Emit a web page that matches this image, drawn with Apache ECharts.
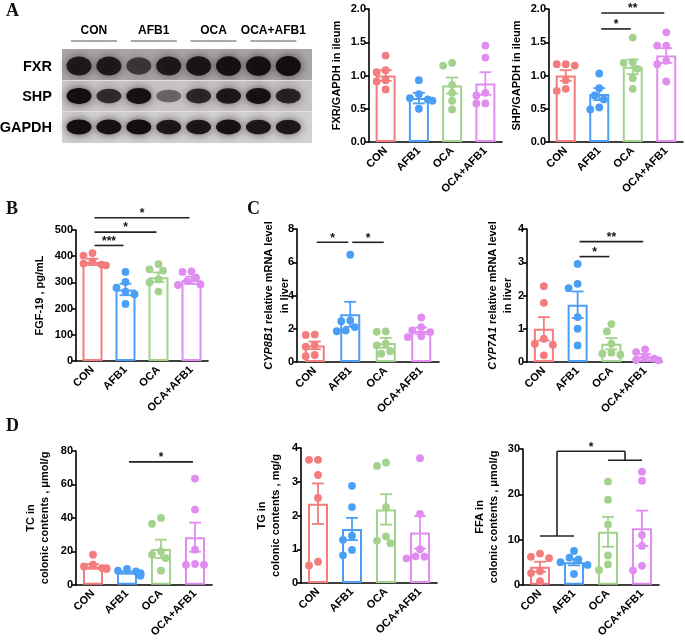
<!DOCTYPE html>
<html lang="en">
<head>
<meta charset="UTF-8">
<title>FXR / FGF-19 / bile acid panels</title>
<script src="https://cdn.jsdelivr.net/npm/echarts@6/dist/echarts.min.js"></script>
<style>
    html, body { margin: 0; padding: 0; background: #fff; }
    #main { width: 685px; height: 640px; }
</style>
</head>
<body>
<div id="main"></div>
<script type="text/javascript">
    var groups = ['CON', 'AFB1', 'OCA', 'OCA+AFB1'];
    var groupColors = ['#f47c7c', '#4b9ef5', '#a3d28c', '#e08cf0'];

    // A - western blot band strength (0..1), lanes 2 per group
    var blotRows = ['FXR', 'SHP', 'GAPDH'];
    var fxrBands = [0.85, 0.85, 0.55, 0.85, 0.9, 0.95, 0.95, 1.0];
    var shpBands = [1.0, 0.7, 0.95, 0.3, 0.75, 0.9, 0.95, 0.8];
    var gapdhBands = [1.0, 0.95, 1.0, 0.9, 0.9, 0.95, 0.9, 0.9];

    // A - FXR/GAPDH in ileum
    var fxrMean = [1.00, 0.66, 0.85, 0.88];
    var fxrSem = [0.08, 0.08, 0.12, 0.17];
    var fxrPoints = [
        [1.30, 1.08, 1.05, 0.93, 0.91, 0.79],
        [0.93, 0.72, 0.66, 0.64, 0.62, 0.50],
        [1.19, 1.15, 0.86, 0.74, 0.62, 0.49],
        [1.45, 1.27, 0.74, 0.70, 0.58, 0.58]
    ];

    // A - SHP/GAPDH in ileum
    var shpMean = [1.00, 0.72, 1.13, 1.30];
    var shpSem = [0.08, 0.09, 0.11, 0.11];
    var shpPoints = [
        [1.17, 1.17, 1.15, 0.93, 0.80, 0.77],
        [1.03, 0.81, 0.70, 0.64, 0.52, 0.49],
        [1.57, 1.20, 1.19, 1.10, 0.96, 0.80],
        [1.65, 1.45, 1.45, 1.22, 1.17, 0.91]
    ];
    var shpSig = [[1, 2, 1.70, '*'], [1, 3, 1.94, '**']];

    // B - FGF-19
    var fgfMean = [378, 273, 320, 308];
    var fgfSem = [12, 22, 18, 14];
    var fgfPoints = [
        [412, 402, 380, 372, 368, 365],
        [340, 302, 280, 265, 255, 218],
        [370, 350, 345, 312, 300, 265],
        [342, 340, 318, 305, 292, 290]
    ];
    var fgfSig = [[0, 1, 441, '***'], [0, 2, 492, '*'], [0, 3, 547, '*']];

    // C - CYP8B1
    var cyp8Mean = [1.00, 2.87, 1.15, 1.87];
    var cyp8Sem = [0.23, 0.75, 0.30, 0.20];
    var cyp8Points = [
        [1.65, 1.63, 1.02, 0.92, 0.42, 0.35],
        [6.45, 2.50, 2.45, 2.10, 1.90, 1.85],
        [1.84, 1.82, 1.10, 1.00, 0.65, 0.50],
        [2.68, 2.10, 1.90, 1.80, 1.55, 1.50]
    ];
    var cyp8Sig = [[0, 1, 7.2, '*'], [1, 2, 7.2, '*']];

    // C - CYP7A1
    var cyp7Mean = [1.00, 1.72, 0.55, 0.17];
    var cyp7Sem = [0.35, 0.40, 0.17, 0.07];
    var cyp7Points = [
        [2.28, 1.78, 0.70, 0.55, 0.52, 0.20],
        [2.95, 2.35, 2.22, 1.35, 1.00, 0.50],
        [1.14, 0.92, 0.55, 0.28, 0.25, 0.22],
        [0.38, 0.30, 0.15, 0.10, 0.06, 0.05]
    ];
    var cyp7Sig = [[1, 2, 3.17, '*'], [1, 3, 3.62, '**']];

    // D - TC / TG / FFA in colonic contents
    var tcMean = [11.0, 7.4, 21.5, 28.5];
    var tcSem = [1.4, 0.6, 5.5, 8.7];
    var tcPoints = [
        [18, 12, 11, 10, 10, 9.5],
        [9.5, 8.5, 8, 7, 6.5, 5.5],
        [40, 36.5, 20, 18, 16, 8.5],
        [63.5, 45, 21, 12.5, 12, 12]
    ];
    var tcSig = [[1, 3, 73.5, '*']];

    var tgMean = [2.35, 1.60, 2.18, 1.50];
    var tgSem = [0.60, 0.33, 0.45, 0.48];
    var tgPoints = [
        [3.65, 3.65, 3.20, 2.52, 0.63, 0.52],
        [2.88, 2.25, 1.40, 1.28, 0.98, 0.82],
        [3.57, 3.47, 2.25, 1.38, 1.25, 1.18],
        [3.70, 2.05, 1.00, 0.79, 0.78, 0.73]
    ];

    var ffaMean = [4.0, 5.0, 11.7, 12.5];
    var ffaSem = [1.1, 0.7, 3.3, 3.9];
    var ffaPoints = [
        [6.9, 6.2, 5.9, 3.0, 2.6, 0.8],
        [7.5, 6.0, 5.6, 5.0, 4.4, 2.4],
        [22.8, 18.8, 13.3, 6.5, 4.5, 3.3],
        [25.0, 23.0, 11.0, 8.6, 4.2, 3.2]
    ];
    // (CON+AFB1) vs (OCA+OCA+AFB1): low bar y, high bar y, top y
    var ffaGroupSig = [10.8, 27.5, 29.5, '*'];

    var fontFam = '"Liberation Sans", Arial, sans-serif';

    var panels = [
        {grid: {left: 369, top: 9, width: 133, height: 133}, max: 2, interval: 0.5, dec: 1,
            name: 'FXR/GAPDH in ileum', nameGap: 26, mean: fxrMean, sem: fxrSem, pts: fxrPoints, sig: []},
        {grid: {left: 549, top: 9, width: 134, height: 133}, max: 2, interval: 0.5, dec: 1,
            name: 'SHP/GAPDH in ileum', nameGap: 26, mean: shpMean, sem: shpSem, pts: shpPoints, sig: shpSig},
        {grid: {left: 76, top: 230, width: 132, height: 131}, max: 500, interval: 100, dec: 0,
            name: 'FGF-19 , pg/mL', nameGap: 30, mean: fgfMean, sem: fgfSem, pts: fgfPoints, sig: fgfSig},
        {grid: {left: 297, top: 229, width: 142, height: 133}, max: 8, interval: 2, dec: 0,
            name: '{i|CYP8B1} relative mRNA level\nin liver', lineHeight: 16, nameGap: 4, noMove: true,
            mean: cyp8Mean, sem: cyp8Sem, pts: cyp8Points, sig: cyp8Sig},
        {grid: {left: 527, top: 229, width: 135, height: 133}, max: 4, interval: 1, dec: 0,
            name: '{i|CYP7A1} relative mRNA level\nin liver', lineHeight: 15, nameGap: 12, noMove: true,
            mean: cyp7Mean, sem: cyp7Sem, pts: cyp7Points, sig: cyp7Sig},
        {grid: {left: 76, top: 451, width: 136, height: 135}, max: 80, interval: 20, dec: 0,
            name: 'TC in\ncolonic contents , \u03bcmol/g', lineHeight: 14, nameGap: 24,
            mean: tcMean, sem: tcSem, pts: tcPoints, sig: tcSig},
        {grid: {left: 301, top: 448, width: 136, height: 135}, max: 4, interval: 1, dec: 0,
            name: 'TG in\ncolonic contents , mg/g', lineHeight: 14, nameGap: 18,
            mean: tgMean, sem: tgSem, pts: tgPoints, sig: []},
        {grid: {left: 523, top: 449, width: 136, height: 136}, max: 30, interval: 10, dec: 0,
            name: 'FFA in\ncolonic contents , \u03bcmol/g', lineHeight: 14, nameGap: 22,
            mean: ffaMean, sem: ffaSem, pts: ffaPoints, sig: [], groupSig: ffaGroupSig}
    ];

    // simple beeswarm: push dots sideways when they would overlap
    function spread(values, pxPerUnit) {
        var placed = [];
        var steps = [0, -4.5, 4.5, -9, 9, -13.5, 13.5];
        return values.map(function (v) {
            var y = v * pxPerUnit;
            var off = steps[steps.length - 1];
            for (var k = 0; k < steps.length; k++) {
                var ok = placed.every(function (p) {
                    return Math.hypot(p[0] - steps[k], p[1] - y) >= 7.6;
                });
                if (ok) { off = steps[k]; break; }
            }
            placed.push([off, y]);
            return off;
        });
    }

    function line(x1, y1, x2, y2, color, w) {
        return {type: 'line', shape: {x1: x1, y1: y1, x2: x2, y2: y2},
            style: {stroke: color, lineWidth: w}};
    }

    function errRender(params, api) {
        var c = api.value(0), m = api.value(1), s = api.value(2);
        var top = api.coord([c, m + s]);
        var bot = api.coord([c, m - s]);
        var col = groupColors[c];
        return {type: 'group', children: [
            line(top[0], top[1], bot[0], bot[1], col, 1.8),
            line(top[0] - 6, top[1], top[0] + 6, top[1], col, 1.8),
            line(bot[0] - 6, bot[1], bot[0] + 6, bot[1], col, 1.8)
        ]};
    }

    function dotRender(params, api) {
        var p = api.coord([api.value(0), api.value(1)]);
        return {type: 'circle', shape: {cx: p[0] + api.value(2), cy: p[1], r: 3.9},
            style: {fill: groupColors[api.value(0)]}};
    }

    function starText(x, y, t) {
        return {type: 'text', x: x, y: y + 3,
            style: {text: t, fill: '#111', font: 'bold 12px ' + fontFam, align: 'center', verticalAlign: 'bottom'}};
    }

    function makeSigRender(sig) {
        return function (params, api) {
            var s = sig[params.dataIndex];
            var a = api.coord([s[0], s[2]]);
            var b = api.coord([s[1], s[2]]);
            return {type: 'group', children: [
                line(a[0] + 2, a[1], b[0] - 2, b[1], '#222', 1.6),
                starText((a[0] + b[0]) / 2, a[1] - 1, s[3])
            ]};
        };
    }

    function makeGroupSigRender(g) {
        return function (params, api) {
            var l0 = api.coord([0, g[0]]), l1 = api.coord([1, g[0]]);
            var h0 = api.coord([2, g[1]]), h1 = api.coord([3, g[1]]);
            var top = api.coord([0, g[2]])[1];
            var lm = (l0[0] + l1[0]) / 2, hm = (h0[0] + h1[0]) / 2;
            return {type: 'group', children: [
                line(l0[0], l0[1], l1[0], l1[1], '#222', 1.6),
                line(h0[0], h0[1], h1[0], h1[1], '#222', 1.6),
                line(lm, l0[1], lm, top, '#222', 1.6),
                line(hm, h0[1], hm, top, '#222', 1.6),
                line(lm, top, hm, top, '#222', 1.6),
                starText((lm + hm) / 2, top - 1, g[3])
            ]};
        };
    }

    var grids = [], xAxes = [], yAxes = [], series = [];
    panels.forEach(function (p, i) {
        grids.push(p.grid);
        xAxes.push({
            type: 'category', gridIndex: i, data: groups,
            axisLine: {lineStyle: {color: '#000', width: 1.6}},
            axisTick: {alignWithLabel: true, length: 4, lineStyle: {color: '#000', width: 1.6}},
            axisLabel: {rotate: 45, margin: 7, color: '#000', fontFamily: fontFam, fontWeight: 'bold', fontSize: 11, interval: 0},
            splitLine: {show: false}
        });
        var yAxis = {
            type: 'value', gridIndex: i, min: 0, max: p.max, interval: p.interval,
            axisLine: {show: true, lineStyle: {color: '#000', width: 1.6}},
            axisTick: {show: true, length: 4, lineStyle: {color: '#000', width: 1.6}},
            axisLabel: {margin: 3, color: '#000', fontFamily: fontFam, fontWeight: 'bold', fontSize: 11,
                formatter: function (v) { return v.toFixed(p.dec); }},
            splitLine: {show: false},
            name: p.name, nameLocation: 'middle', nameGap: p.nameGap,
            nameTextStyle: {color: '#000', fontFamily: fontFam, fontWeight: 'bold', fontSize: 11,
                lineHeight: p.lineHeight || 13,
                rich: {i: {fontStyle: 'italic', fontWeight: 'bold', fontSize: 11, fontFamily: fontFam, color: '#000'}}}
        };
        if (p.noMove) yAxis.nameMoveOverlap = false;
        yAxes.push(yAxis);

        series.push({
            type: 'bar', xAxisIndex: i, yAxisIndex: i, barWidth: 20, z: 2,
            data: p.mean.map(function (m, c) {
                return {value: m, itemStyle: {color: '#fff', borderColor: groupColors[c], borderWidth: 2}};
            })
        });

        var pxPerUnit = p.grid.height / p.max;
        var dots = [];
        p.pts.forEach(function (vals, c) {
            var offs = spread(vals, pxPerUnit);
            vals.forEach(function (v, k) { dots.push([c, v, offs[k]]); });
        });
        series.push({type: 'custom', xAxisIndex: i, yAxisIndex: i, z: 3, renderItem: dotRender, data: dots});

        series.push({
            type: 'custom', xAxisIndex: i, yAxisIndex: i, z: 4, renderItem: errRender,
            data: p.mean.map(function (m, c) { return [c, m, p.sem[c]]; })
        });

        if (p.sig.length) {
            series.push({
                type: 'custom', xAxisIndex: i, yAxisIndex: i, z: 5, clip: false,
                renderItem: makeSigRender(p.sig),
                data: p.sig.map(function (s) { return [s[0], s[2]]; })
            });
        }
        if (p.groupSig) {
            series.push({
                type: 'custom', xAxisIndex: i, yAxisIndex: i, z: 5, clip: false,
                renderItem: makeGroupSigRender(p.groupSig),
                data: [[0, p.groupSig[0]]]
            });
        }
    });

    // blot picture and panel letters
    var graphics = [];
    function laneX(k) { return 79 + k * 29.9; }
    graphics.push({type: 'rect', shape: {x: 62, y: 49, width: 250, height: 94}, style: {fill: '#d2cfcf'}});
    graphics.push({type: 'rect', shape: {x: 62, y: 49, width: 250, height: 31}, style: {fill: '#aaa6a7'}});
    graphics.push({type: 'rect', shape: {x: 62, y: 81, width: 250, height: 30}, style: {fill: '#cac6c7'}});
    graphics.push({type: 'rect', shape: {x: 62, y: 112, width: 250, height: 31}, style: {fill: '#d4d1d1'}});
    var rowY = [66, 96, 127], rowRy = [10, 8, 7.5];
    [fxrBands, shpBands, gapdhBands].forEach(function (bands, r) {
        bands.forEach(function (s, k) {
            graphics.push({type: 'ellipse', shape: {cx: laneX(k), cy: rowY[r], rx: 12.5, ry: rowRy[r] * (0.7 + 0.3 * s)},
                style: {fill: 'rgba(18,12,14,' + (0.3 + 0.68 * s).toFixed(2) + ')', shadowBlur: 10,
                    shadowColor: 'rgba(18,12,14,' + (0.75 * s).toFixed(2) + ')'}});
        });
        graphics.push({type: 'text', x: 52, y: rowY[r] + 1,
            style: {text: blotRows[r], fill: '#000', font: 'bold 14.5px ' + fontFam, align: 'right', verticalAlign: 'middle'}});
    });
    graphics.push({type: 'line', shape: {x1: 62, y1: 80.5, x2: 312, y2: 80.5}, style: {stroke: '#e3e0e0', lineWidth: 1.2}});
    graphics.push({type: 'line', shape: {x1: 62, y1: 111.5, x2: 312, y2: 111.5}, style: {stroke: '#e3e0e0', lineWidth: 1.2}});
    groups.forEach(function (g, k) {
        var cx = (laneX(2 * k) + laneX(2 * k + 1)) / 2;
        graphics.push({type: 'text', x: cx, y: 31,
            style: {text: g, fill: '#000', font: 'bold 12px ' + fontFam, align: 'center', verticalAlign: 'middle'}});
        graphics.push({type: 'line', shape: {x1: cx - 23, y1: 41, x2: cx + 23, y2: 41}, style: {stroke: '#a9a9a9', lineWidth: 2}});
    });
    [['A', 6, 2], ['B', 6, 200], ['C', 247, 200], ['D', 6, 417]].forEach(function (l) {
        graphics.push({type: 'text', x: l[1], y: l[2],
            style: {text: l[0], fill: '#111', font: 'bold 18px "Liberation Serif", "DejaVu Serif", serif'}});
    });

    var myChart = echarts.init(document.getElementById('main'), null, {renderer: 'canvas'});
    myChart.setOption({
        animation: false,
        backgroundColor: '#fff',
        grid: grids,
        xAxis: xAxes,
        yAxis: yAxes,
        series: series,
        graphic: graphics
    });
</script>
</body>
</html>
